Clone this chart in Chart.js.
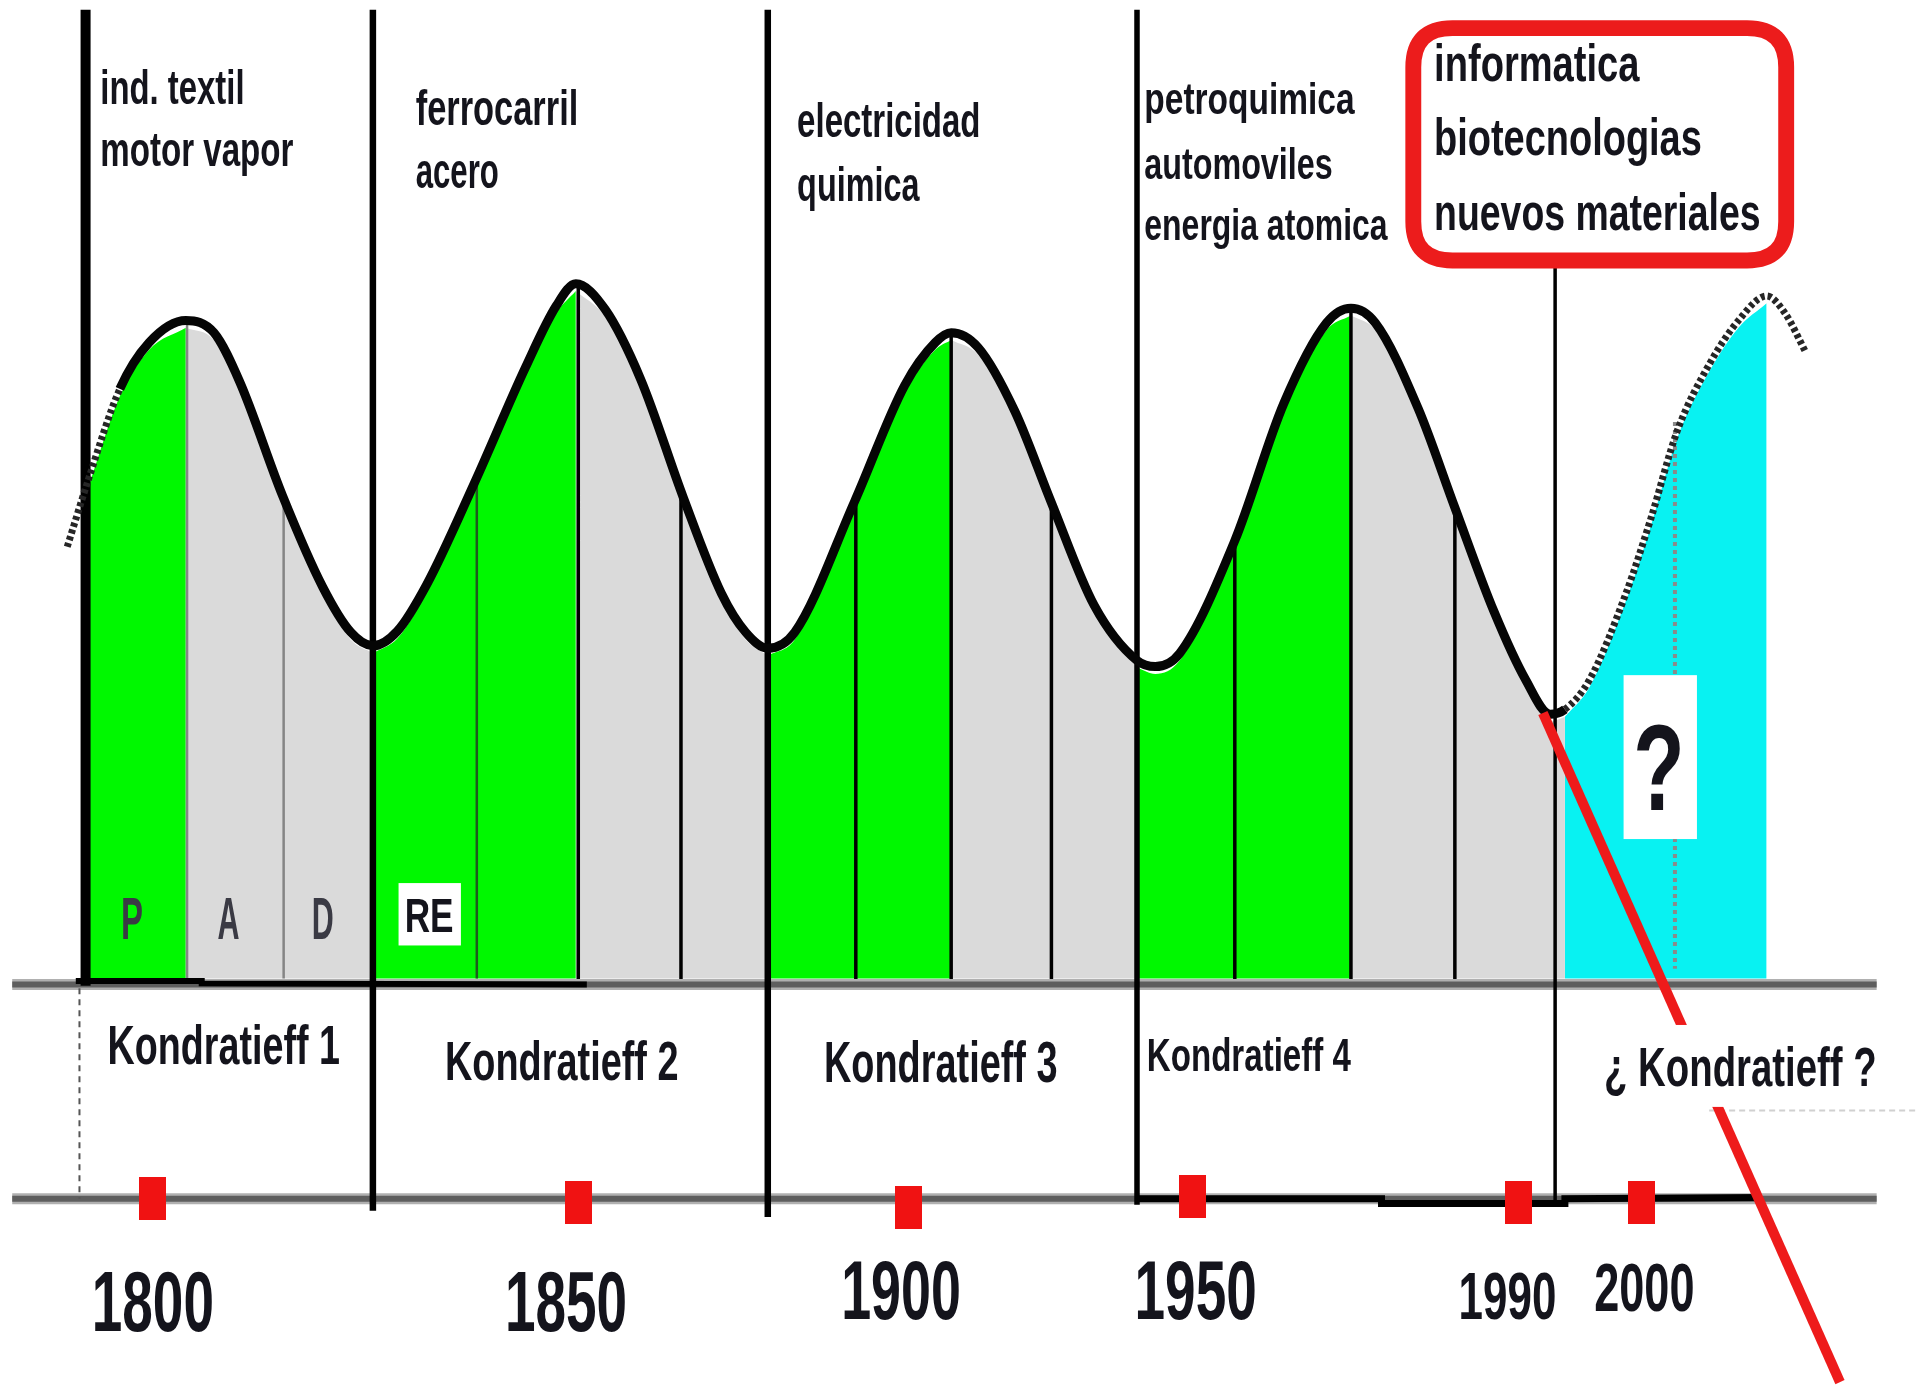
<!DOCTYPE html>
<html>
<head>
<meta charset="utf-8">
<script src="https://cdn.jsdelivr.net/npm/chart.js@4.4.1/dist/chart.umd.min.js"></script>
<style>
  html, body { margin: 0; padding: 0; background: #fff; }
  #wrap { width: 1917px; height: 1387px; position: relative; }
</style>
</head>
<body>
<div id="wrap"><canvas id="myChart"></canvas></div>
<script>
// the drawing sits on a 1568 x 1134 grid (x = position on the time line, y = height, downwards)

// long wave
const waveX = [55, 72, 98, 122, 152, 175, 196, 231, 264, 287,
               305, 325, 349, 388, 430, 455, 471, 495, 524, 559,
               590, 610, 628, 650, 699, 740, 765, 778, 800, 830,
               860, 895, 930, 945, 965, 1010, 1050, 1085, 1105, 1125,
               1160, 1190, 1222, 1248, 1268, 1280, 1300, 1330, 1350, 1372,
               1398, 1422, 1445, 1460, 1477];
const waveY = [447, 393, 318, 280, 262, 272, 312, 405, 480, 517,
               528, 516, 478, 395, 300, 250, 232, 253, 310, 407,
               485, 517, 530, 517, 410, 315, 280, 272, 284, 336,
               411, 495, 540, 545, 534, 442, 330, 264, 252, 264,
               334, 415, 500, 556, 584, 580, 556, 485, 425, 352,
               298, 262, 242, 256, 288];
const solidFrom = 2;   // wave index where the drawn (known) curve starts
const solidTo = 45;    // wave index where the forecast starts

// phases (upswing / downswing) as index ranges on the wave
const phaseStart = [1, 4, 10, 16, 22, 27, 32, 38, 45];
const phaseEnd   = [4, 10, 16, 22, 27, 32, 38, 45, 52];
const phaseKind  = ['up', 'down', 'up', 'down', 'up', 'down', 'up', 'down', 'future'];

// borders between the waves
const waveBounds   = [70, 305, 628, 930, 1272];
const boundTop     = [8, 8, 8, 8, 218];
const boundBottom  = [806, 990, 995, 985, 985];

// sub-phase dividers inside each wave
const greyDivX   = [153, 232];
const greyDivTop = [262, 408];
const greenDivX   = [390];
const greenDivTop = [392];
const blackDivX   = [473, 557, 700, 778, 860, 1010, 1105, 1190];
const blackDivTop = [232, 405, 410, 272, 411, 442, 252, 415];

// time line
const years   = ['1800', '1850', '1900', '1950', '1990', '2000'];
const yearPos = [125, 473, 743, 975, 1242, 1343];
const yearY   = [980, 983, 987, 978, 983, 983];

const techLabels = [
  ['ind. textil', 'motor vapor'],
  ['ferrocarril', 'acero'],
  ['electricidad', 'quimica'],
  ['petroquimica', 'automoviles', 'energia atomica'],
  ['informatica', 'biotecnologias', 'nuevos materiales']
];
const waveNames = ['Kondratieff 1', 'Kondratieff 2', 'Kondratieff 3', 'Kondratieff 4', '¿ Kondratieff ?'];
const phaseLetters = ['P', 'A', 'D'];

// ---- styles / layout ----
const BASE_Y = 800;
const FILL_GAP = 6;
const phaseColors = { up: '#00f800', down: '#dadada', future: '#08f2f2' };
const INK = '#14141c';

const techLayout = [
  { x: 82,   base: [85, 136],      capH: 28, widths: [118, 158] },
  { x: 340,  base: [102, 154],     capH: 29, widths: [133, 68] },
  { x: 652,  base: [112, 164],     capH: 28, widths: [150, 100] },
  { x: 936,  base: [93, 146, 196], capH: 26, widths: [172, 154, 199] },
  { x: 1173, base: [66, 127, 188], capH: 30, widths: [168, 219, 267] }
];
const nameLayout = [
  { x: 88,   base: 870, capH: 32, w: 190 },
  { x: 364,  base: 883, capH: 33, w: 191 },
  { x: 674,  base: 885, capH: 34, w: 191 },
  { x: 938,  base: 876, capH: 27, w: 167 },
  { x: 1312, base: 888, capH: 33, w: 223 }
];
const yearLayout = [
  { cx: 125,  base: 1088, capH: 50, w: 100 },
  { cx: 463,  base: 1088, capH: 50, w: 100 },
  { cx: 737,  base: 1078, capH: 49, w: 98 },
  { cx: 978,  base: 1078, capH: 49, w: 100 },
  { cx: 1233, base: 1078, capH: 39, w: 80 },
  { cx: 1345, base: 1072, capH: 40, w: 82 }
];
const letterX = [108, 187, 264];

const pts = (xs, ys) => xs.map((x, i) => ({ x: x, y: ys[i] }));
const wave = pts(waveX, waveY);

function vlines(xs, tops, bottom) {
  const out = [];
  xs.forEach((x, i) => {
    out.push({ x: x, y: tops[i] }, { x: x, y: bottom }, { x: x, y: null });
  });
  return out;
}

const datasets = [];

// coloured phases under the curve
phaseStart.forEach((s, i) => {
  datasets.push({
    data: wave.slice(s, phaseEnd[i] + 1).map(p => ({ x: p.x, y: p.y + FILL_GAP })),
    borderColor: 'rgba(0,0,0,0)',
    borderWidth: 0,
    backgroundColor: phaseColors[phaseKind[i]],
    fill: { value: BASE_Y },
    cubicInterpolationMode: 'monotone',
    pointRadius: 0,
    order: 30
  });
});

// dividers
datasets.push({ data: vlines(greyDivX, greyDivTop, BASE_Y), borderColor: '#858585', borderWidth: 2.5, pointRadius: 0, order: 25 });
datasets.push({ data: vlines(greenDivX, greenDivTop, BASE_Y), borderColor: '#1f5a1f', borderWidth: 2.5, pointRadius: 0, order: 25 });
datasets.push({ data: vlines(blackDivX, blackDivTop, BASE_Y + 6), borderColor: '#000', borderWidth: 3.5, pointRadius: 0, order: 25 });
datasets.push({ data: [{ x: 1370, y: 345 }, { x: 1370, y: 792 }], borderColor: '#8a8a8a', borderWidth: 4, borderDash: [4, 4], pointRadius: 0, order: 25 });

// time line axes
[BASE_Y + 5, 980].forEach(yy => {
  datasets.push({ data: [{ x: 10, y: yy }, { x: 1535, y: yy }], borderColor: '#b0b0b0', borderWidth: 11, pointRadius: 0, order: 23 });
  datasets.push({ data: [{ x: 10, y: yy }, { x: 1535, y: yy }], borderColor: '#5e5e5e', borderWidth: 6, pointRadius: 0, order: 22 });
});
datasets.push({ data: [{ x: 62, y: 802 }, { x: 165, y: 802 }, { x: 165, y: 804 }, { x: 480, y: 805 }], borderColor: '#000', borderWidth: 6, pointRadius: 0, order: 21 });
datasets.push({ data: [{ x: 930, y: 980 }, { x: 1130, y: 980 }, { x: 1130, y: 984 }, { x: 1280, y: 984 }, { x: 1280, y: 980 }, { x: 1440, y: 979 }], borderColor: '#000', borderWidth: 7, pointRadius: 0, order: 21 });
datasets.push({ data: [{ x: 65, y: 808 }, { x: 65, y: 980 }], borderColor: '#555', borderWidth: 2, borderDash: [6, 5], pointRadius: 0, order: 21 });
datasets.push({ data: [{ x: 1398, y: 908 }, { x: 1568, y: 908 }], borderColor: '#d0d0d0', borderWidth: 2, borderDash: [6, 4], pointRadius: 0, order: 21 });

// wave borders
const boundWidths = [10, 6.5, 6.5, 5.5, 3.5];
waveBounds.forEach((x, i) => {
  datasets.push({
    data: [{ x: x, y: boundTop[i] }, { x: x, y: boundBottom[i] }],
    borderColor: '#000', borderWidth: boundWidths[i], pointRadius: 0, order: 18
  });
});

// the wave itself
const isForecast = ctx => ctx.p0DataIndex < solidFrom || ctx.p0DataIndex >= solidTo;
datasets.push({
  data: wave,
  borderColor: '#050505',
  borderWidth: 9,
  cubicInterpolationMode: 'monotone',
  pointRadius: 0,
  order: 15,
  segment: {
    borderDash: ctx => isForecast(ctx) ? [4, 3] : undefined,
    borderColor: ctx => isForecast(ctx) ? '#262626' : undefined,
    borderWidth: ctx => isForecast(ctx) ? 7 : undefined
  }
});

// red cut line
datasets.push({ data: [{ x: 1262, y: 583 }, { x: 1505, y: 1130 }], borderColor: '#ee1b1b', borderWidth: 10, pointRadius: 0, order: 5 });

// year markers
const markerImg = document.createElement('canvas');
markerImg.width = 27; markerImg.height = 43;
const mctx = markerImg.getContext('2d');
mctx.fillStyle = '#f01212';
mctx.fillRect(0, 0, 27, 43);
datasets.push({
  data: pts(yearPos, yearY),
  showLine: false,
  pointStyle: markerImg,
  pointRadius: 10,
  order: 1
});

const textPlugin = {
  id: 'diagramText',
  afterDatasetsDraw(chart) {
    const ctx = chart.ctx;
    const sx = chart.scales.x, sy = chart.scales.y;
    const X = v => sx.getPixelForValue(v);
    const Y = v => sy.getPixelForValue(v);
    const k = X(1) - X(0);

    function label(text, left, base, capH, width, color) {
      const size = capH * k / 0.716;
      ctx.save();
      ctx.font = 'bold ' + size + 'px "Liberation Sans", Arial, sans-serif';
      ctx.textBaseline = 'alphabetic';
      ctx.textAlign = 'left';
      const w0 = ctx.measureText(text).width;
      const f = width ? (width * k) / w0 : 1;
      ctx.translate(X(left), Y(base));
      ctx.scale(f, 1);
      ctx.fillStyle = color || INK;
      ctx.fillText(text, 0, 0);
      ctx.restore();
    }
    function box(x0, y0, x1, y1, fill) {
      ctx.fillStyle = fill;
      ctx.fillRect(X(x0), Y(y0), X(x1) - X(x0), Y(y1) - Y(y0));
    }

    // red frame round the new technologies
    const bx0 = X(1156), by0 = Y(23), bx1 = X(1461), by1 = Y(213), r = 32 * k;
    ctx.save();
    ctx.beginPath();
    ctx.moveTo(bx0 + r, by0);
    ctx.lineTo(bx1 - r, by0);
    ctx.quadraticCurveTo(bx1, by0, bx1, by0 + r);
    ctx.lineTo(bx1, by1 - r);
    ctx.quadraticCurveTo(bx1, by1, bx1 - r, by1);
    ctx.lineTo(bx0 + r, by1);
    ctx.quadraticCurveTo(bx0, by1, bx0, by1 - r);
    ctx.lineTo(bx0, by0 + r);
    ctx.quadraticCurveTo(bx0, by0, bx0 + r, by0);
    ctx.closePath();
    ctx.lineWidth = 13 * k;
    ctx.strokeStyle = '#ec1c1c';
    ctx.stroke();
    ctx.restore();

    techLabels.forEach((lines, i) => {
      const L = techLayout[i];
      lines.forEach((t, j) => label(t, L.x, L.base[j], L.capH, L.widths[j]));
    });

    box(1300, 838, 1548, 905, '#fff');
    waveNames.forEach((t, i) => {
      const L = nameLayout[i];
      label(t, L.x, L.base, L.capH, L.w);
    });

    years.forEach((t, i) => {
      const L = yearLayout[i];
      label(t, L.cx - L.w / 2, L.base, L.capH, L.w);
    });

    phaseLetters.forEach((t, i) => {
      label(t, letterX[i] - 9, 768, 35, 18, '#3a3a44');
    });

    box(326, 722, 377, 773, '#fff');
    label('RE', 331, 762, 28, 40);

    box(1328, 552, 1388, 686, '#fff');
    label('?', 1336, 662, 72, 42);
  }
};

new Chart(document.getElementById('myChart'), {
  type: 'line',
  data: { datasets: datasets },
  options: {
    responsive: true,
    maintainAspectRatio: false,
    devicePixelRatio: 1,
    animation: false,
    spanGaps: false,
    layout: { padding: 0, autoPadding: false },
    plugins: { legend: { display: false }, tooltip: { enabled: false } },
    scales: {
      x: { type: 'linear', min: 0, max: 1568, display: false },
      y: { type: 'linear', min: 0, max: 1134, reverse: true, display: false }
    }
  },
  plugins: [textPlugin]
});
</script>
</body>
</html>
